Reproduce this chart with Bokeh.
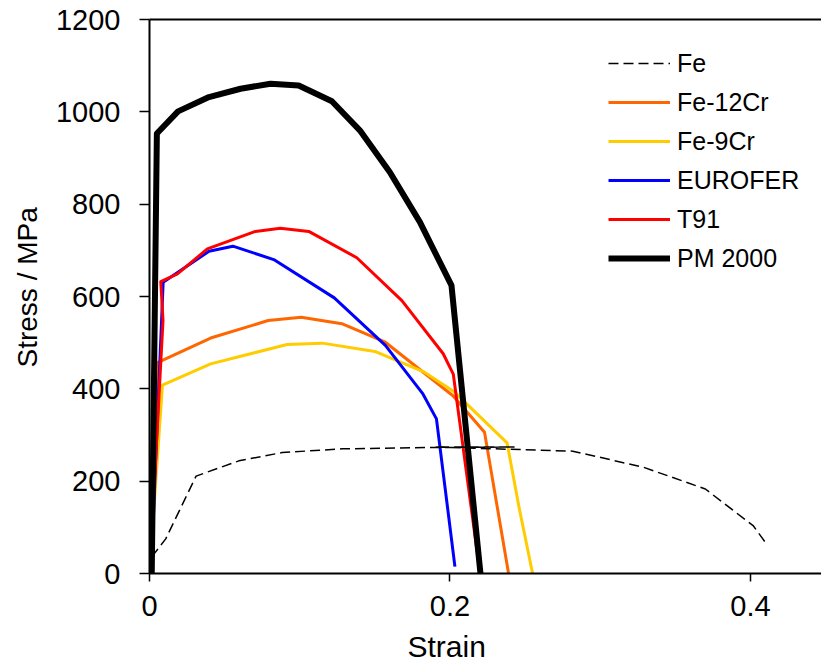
from bokeh.plotting import figure
from bokeh.models import Legend, LegendItem, Title, LinearAxis, FixedTicker, Range1d
from bokeh.embed import file_html
from bokeh.resources import INLINE

# ---- data ----
fe_strain = [0.0015, 0.0108, 0.031, 0.0595, 0.0883, 0.128, 0.188, 0.243, 0.19, 0.2818, 0.329, 0.370, 0.402, 0.410]
fe_stress = [36, 75, 211, 244, 262, 270, 273, 274, 274, 265, 230, 183, 103, 67]

fe12_strain = [0.0, 0.0053, 0.0407, 0.079, 0.101, 0.128, 0.157, 0.202, 0.223, 0.239]
fe12_stress = [0, 457, 510, 548, 555, 541, 501, 385, 306, 0]

fe9_strain = [0.0, 0.0086, 0.0407, 0.0916, 0.115, 0.150, 0.183, 0.203, 0.238, 0.246, 0.255]
fe9_stress = [0, 408, 454, 496, 499, 481, 436, 393, 283, 143, 0]

eur_strain = [0.001, 0.0091, 0.0396, 0.0555, 0.0827, 0.123, 0.157, 0.182, 0.191, 0.2033]
eur_stress = [0, 631, 698, 709, 680, 597, 494, 389, 335, 15]

t91_strain = [0.0, 0.009, 0.0075, 0.0186, 0.0385, 0.0705, 0.0871, 0.106, 0.138, 0.168, 0.1955, 0.2022, 0.220]
t91_stress = [0, 548, 632, 649, 703, 741, 748, 741, 684, 591, 476, 432, 0]

pm_strain = [0.0015, 0.0049, 0.019, 0.0396, 0.0606, 0.0805, 0.0993, 0.1214, 0.140, 0.160, 0.180, 0.201, 0.2203]
pm_stress = [0, 953, 1001, 1032, 1050, 1061, 1057, 1023, 960, 869, 761, 624, 0]

x_ticks = [0, 0.2, 0.4]
x_tick_labels = ["0", "0.2", "0.4"]
y_ticks = [0, 200, 400, 600, 800, 1000, 1200]

FONT = "Liberation Sans"

p = figure(width=821, height=671, output_backend="svg", toolbar_location=None,
           x_range=Range1d(0, 0.4473), y_range=Range1d(0, 1200),
           min_border_left=147, min_border_right=0, min_border_top=19, min_border_bottom=98,
           background_fill_color="white", border_fill_color="white")
p.outline_line_color = None
p.grid.visible = False

# axes styling
for ax in (p.xaxis[0], p.yaxis[0]):
    ax.axis_line_color = "black"
    ax.axis_line_width = 2
    ax.major_tick_line_color = "black"
    ax.major_tick_line_width = 1.5
    ax.major_tick_in = 0
    ax.minor_tick_line_color = None
    ax.major_label_text_font = FONT
    ax.major_label_text_font_size = "29px"
    ax.major_label_text_color = "black"

p.xaxis[0].ticker = FixedTicker(ticks=x_ticks)
p.xaxis[0].major_label_overrides = {t: l for t, l in zip(x_ticks, x_tick_labels)}
p.xaxis[0].major_tick_out = 8
p.xaxis[0].major_label_standoff = 14

p.yaxis[0].ticker = FixedTicker(ticks=y_ticks)
p.yaxis[0].major_tick_out = 10
p.yaxis[0].major_label_standoff = 19

top_axis = LinearAxis(ticker=FixedTicker(ticks=[]), major_label_text_font_size="0px",
                      major_tick_out=0, major_tick_in=0, minor_tick_out=0, minor_tick_in=0,
                      axis_line_color="black", axis_line_width=2, major_label_standoff=0)
p.add_layout(top_axis, "above")

# axis titles, placed like the reference
p.add_layout(Title(text="Strain", align="left", offset=258, text_font=FONT,
                   text_font_size="30px", text_font_style="normal", text_color="black",
                   standoff=18), "below")
p.add_layout(Title(text="Stress / MPa", align="left", offset=206, text_font=FONT,
                   text_font_size="28px", text_font_style="normal", text_color="black",
                   standoff=19), "left")

# series
r_fe12 = p.line(fe12_strain, fe12_stress, line_color="#FF6600", line_width=3, line_join="round")
r_fe9 = p.line(fe9_strain, fe9_stress, line_color="#FFCC00", line_width=3, line_join="round")
r_eur = p.line(eur_strain, eur_stress, line_color="#0000FF", line_width=3, line_join="round")
r_t91 = p.line(t91_strain, t91_stress, line_color="#FF0000", line_width=3, line_join="round")
r_pm = p.line(pm_strain, pm_stress, line_color="black", line_width=6, line_join="round")
r_fe = p.line(fe_strain, fe_stress, line_color="black", line_width=1.5, line_dash="10 5")

legend = Legend(items=[
    LegendItem(label="Fe", renderers=[r_fe]),
    LegendItem(label="Fe-12Cr", renderers=[r_fe12]),
    LegendItem(label="Fe-9Cr", renderers=[r_fe9]),
    LegendItem(label="EUROFER", renderers=[r_eur]),
    LegendItem(label="T91", renderers=[r_t91]),
    LegendItem(label="PM 2000", renderers=[r_pm]),
], location=(459, 300))
legend.border_line_color = None
legend.background_fill_alpha = 0
legend.padding = 0
legend.margin = 0
legend.spacing = 9
legend.glyph_width = 62
legend.glyph_height = 30
legend.label_height = 30
legend.label_standoff = 7
legend.label_text_font = FONT
legend.label_text_font_size = "25px"
legend.label_text_color = "black"
legend.label_text_baseline = "middle"
p.add_layout(legend, "center")

open("out.html", "w").write(file_html(p, INLINE))
